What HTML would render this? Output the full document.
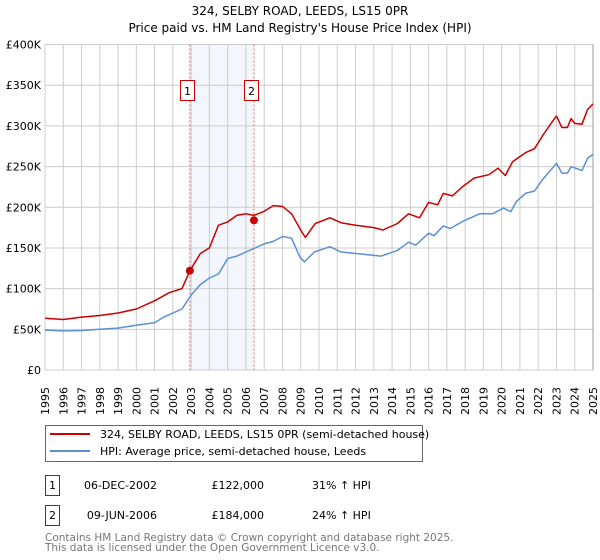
<!DOCTYPE html>
<html><head><meta charset="utf-8">
<style>
body{margin:0;background:#fff;}
svg{display:block;font-family:"DejaVu Sans","Liberation Sans",sans-serif;}
</style></head>
<body>
<svg id="chart" width="600" height="560" viewBox="0 0 600 560" xmlns="http://www.w3.org/2000/svg">
<text x="300" y="15" text-anchor="middle" font-size="12">324, SELBY ROAD, LEEDS, LS15 0PR</text>
<text x="300" y="32" text-anchor="middle" font-size="12">Price paid vs. HM Land Registry's House Price Index (HPI)</text>
<g id="grid"></g>
<g id="marks"></g>
<g id="axes"></g>
<g>
<rect x="45.5" y="425.5" width="377" height="36" fill="#fff" stroke="#666"/>
<line x1="50" y1="434" x2="90" y2="434" stroke="#cc0000" stroke-width="2"/>
<text x="100" y="438" font-size="11">324, SELBY ROAD, LEEDS, LS15 0PR (semi-detached house)</text>
<line x1="50" y1="451" x2="90" y2="451" stroke="#5b8fd4" stroke-width="2"/>
<text x="100" y="455" font-size="11">HPI: Average price, semi-detached house, Leeds</text>
</g>
<g font-size="11">
<rect x="45.5" y="475.5" width="14" height="20" fill="#fff" stroke="#cc0000"/>
<text x="52.5" y="489" text-anchor="middle">1</text>
<text x="157" y="489" text-anchor="end">06-DEC-2002</text>
<text x="264" y="489" text-anchor="end">£122,000</text>
<text x="312" y="489">31% ↑ HPI</text>
<rect x="45.5" y="505.5" width="14" height="20" fill="#fff" stroke="#cc0000"/>
<text x="52.5" y="519" text-anchor="middle">2</text>
<text x="157" y="519" text-anchor="end">09-JUN-2006</text>
<text x="264" y="519" text-anchor="end">£184,000</text>
<text x="312" y="519">24% ↑ HPI</text>
</g>
<text x="45" y="541" font-size="10.5" fill="#777">Contains HM Land Registry data © Crown copyright and database right 2025.</text>
<text x="45" y="551" font-size="10.5" fill="#777">This data is licensed under the Open Government Licence v3.0.</text>
</svg>
<script>
const yTicks=[0,50000,100000,150000,200000,250000,300000,350000,400000];
const yTickLabels=["£0","£50K","£100K","£150K","£200K","£250K","£300K","£350K","£400K"];
const xTicks=[1995,1996,1997,1998,1999,2000,2001,2002,2003,2004,2005,2006,2007,2008,2009,2010,2011,2012,2013,2014,2015,2016,2017,2018,2019,2020,2021,2022,2023,2024,2025];
const hpiYears=[1995,1996,1997,1998,1999,2000,2001,2001.5,2002.5,2003,2003.5,2004,2004.5,2005,2005.5,2006,2006.5,2007,2007.5,2008,2008.5,2008.95,2009.2,2009.75,2010.6,2011.2,2012.3,2013.4,2014.3,2014.9,2015.3,2016,2016.3,2016.8,2017.2,2017.9,2018.8,2019.5,2020.1,2020.5,2020.8,2021.3,2021.8,2022.2,2023.0,2023.3,2023.6,2023.8,2024.4,2024.7,2025.0];
const hpiValues=[49000,48000,48500,50000,51500,55000,58000,65000,75000,92000,105000,113000,118000,137000,140000,145000,150000,155000,158000,164000,162000,139000,133000,145000,151500,145000,142500,140000,147000,157000,153500,168000,165000,177000,174000,183000,192000,192000,199000,194500,207000,217000,220000,233000,254000,242000,242000,250000,245000,260000,265000];
const propYears=[1995,1996,1997,1998,1999,2000,2001,2001.8,2002.5,2002.93,2003.5,2004,2004.5,2005,2005.5,2006,2006.44,2007,2007.5,2008,2008.5,2009,2009.25,2009.8,2010.6,2011.2,2012,2013,2013.5,2014.3,2014.9,2015.5,2016,2016.5,2016.8,2017.3,2017.9,2018.5,2019.3,2019.8,2020.2,2020.6,2021.3,2021.8,2022.3,2022.8,2023.0,2023.3,2023.6,2023.8,2024.0,2024.4,2024.7,2025.0];
const propValues=[63500,62000,65000,67000,70000,75000,85000,95000,100000,122000,143000,150000,178000,182000,190000,192000,190000,195000,202000,201000,192000,172000,163000,180000,187000,181000,178000,175000,172000,180000,192000,187000,206000,203000,217000,214000,226000,236000,240000,248000,239000,256000,267000,272000,290000,306000,312000,298000,298000,309000,303000,302000,320000,327000];
const saleDates=[2002.93,2006.44];
const salePrices=[122000,184000];
const saleLabels=["1","2"];

const X0=45,X1=593,Y0=370,Y1=44.5;
const xs=v=>X0+(v-1995)/(2025-1995)*(X1-X0);
const ys=v=>Y0-(v/400000)*(Y0-Y1);
const NS="http://www.w3.org/2000/svg";
function mk(tag,attrs,parent){const e=document.createElementNS(NS,tag);for(const k in attrs)e.setAttribute(k,attrs[k]);parent.appendChild(e);return e;}
const grid=document.getElementById('grid'),marks=document.getElementById('marks'),axes=document.getElementById('axes');

const band=mk('rect',{x:xs(saleDates[0]),y:Y1,width:xs(saleDates[1])-xs(saleDates[0]),height:Y0-Y1,fill:'#eef3fc',opacity:0.7},grid);


xTicks.forEach(t=>{
  const l=mk('line',{x1:xs(t),x2:xs(t),y1:Y1,y2:Y0,stroke:'#ccc','stroke-width':1},grid);
  
  
  const tx=mk('text',{transform:`translate(${xs(t)+4},${Y0+45}) rotate(-90)`,'font-size':11},axes);
  tx.textContent=t;
  
  
});
yTicks.forEach((t,i)=>{
  const l=mk('line',{x1:X0,x2:X1,y1:ys(t),y2:ys(t),stroke:'#ccc','stroke-width':1},grid);
  
  
  const tx=mk('text',{x:X0-4,y:ys(t)+4,'text-anchor':'end','font-size':11},axes);
  tx.textContent=yTickLabels[i];
  
  
});
const rightAxis=mk('line',{x1:X1,x2:X1,y1:Y1,y2:Y0,stroke:'#999'},grid);


saleDates.forEach((d,i)=>{
  const l=mk('line',{x1:xs(d),x2:xs(d),y1:Y1,y2:Y0,stroke:'#f06060','stroke-dasharray':'2,2','stroke-width':1},marks);
  
  
});
function path(xa,va,color,name){
  const d=xa.map((x,i)=>(i?'L':'M')+xs(x).toFixed(1)+','+ys(va[i]).toFixed(1)).join('');
  const p=mk('path',{d:d,fill:'none',stroke:color,'stroke-width':1.5,'stroke-linejoin':'round'},marks);
  
  
}
path(hpiYears,hpiValues,'#5b8fd4','hpi-line');
path(propYears,propValues,'#cc0000','property-line');
saleDates.forEach((d,i)=>{
  const c=mk('circle',{cx:xs(d),cy:ys(salePrices[i]),r:4,fill:'#cc0000'},marks);
  
  
  const bx=Math.round(xs(d)-10)+0.5;
  const r=mk('rect',{x:bx,y:80.5,width:14,height:20,fill:'#fff',stroke:'#cc0000'},marks);
  
  
  const t=mk('text',{x:bx+7,y:95,'text-anchor':'middle','font-size':11},marks);
  t.textContent=saleLabels[i];
  
  
});
</script>
</body></html>
